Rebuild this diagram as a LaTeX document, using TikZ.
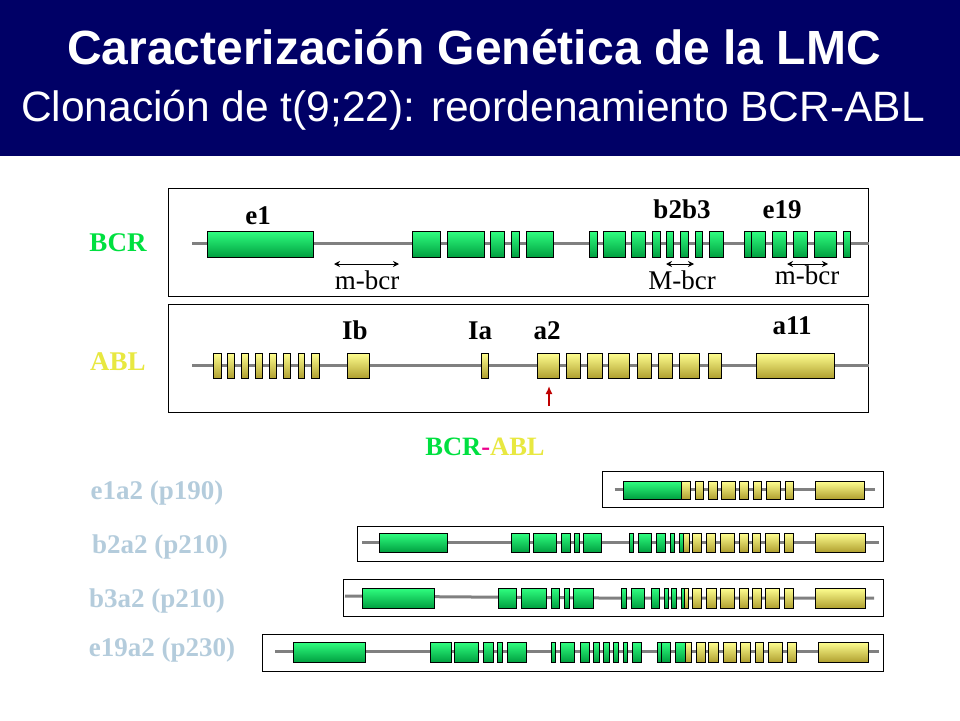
\documentclass[tikz,border=0pt]{standalone}
\usepackage{fontspec}
\usetikzlibrary{arrows.meta}
\setmainfont{Liberation Serif}
\newfontfamily\hdfont{Liberation Sans}
\definecolor{navy}{HTML}{000066}
\definecolor{gtop}{HTML}{30FF80}
\definecolor{gbot}{HTML}{00A040}
\definecolor{ytop}{HTML}{FFFF90}
\definecolor{ybot}{HTML}{B0A030}
\definecolor{lbl}{HTML}{B4CCDC}
\definecolor{bcrg}{HTML}{00E040}
\definecolor{ably}{HTML}{E8E840}
\newcommand\exons[4]{\foreach \a/\b in {#4}{\draw[#1] (\a,#2) rectangle (\b,#3);}}
\begin{document}
\begin{tikzpicture}[x=1pt,y=-1pt,
  gex/.style={draw=black,line width=0.7pt,top color=gtop,bottom color=gbot},
  yex/.style={draw=black,line width=0.7pt,top color=ytop,bottom color=ybot},
  chrom/.style={draw=gray,line width=3pt},
  frame/.style={draw=black,line width=0.8pt},
  exlab/.style={font=\bfseries\fontsize{27}{27}\selectfont,anchor=base},
  reg/.style={font=\fontsize{27}{27}\selectfont},
  dim/.style={<->,>={Stealth[length=6pt,width=6pt]},line width=1pt},
  rowlab/.style={text=lbl,font=\bfseries\fontsize{27}{27}\selectfont}]
\useasboundingbox (0,0) rectangle (960,720);
\fill[white] (0,0) rectangle (960,720);
\fill[navy] (0,0) rectangle (960,156);
\node[text=white,font=\hdfont\bfseries\fontsize{48}{48}\selectfont] (t1) at (474,47) {Caracterización Genética de la LMC};
\node[text=white,font=\hdfont\fontsize{42.5}{42.5}\selectfont] (t2) at (473,110) {Clonación de t(9;22): reordenamiento BCR-ABL};
% BCR
\draw[frame] (168,188) rectangle (868,296);
\draw[chrom] (192,243) -- (869,243);
\exons{gex}{231}{257}{207/313,412.5/440,447/484,490.6/504,511/519,526/553.5,589/597,603/625,631.5/645,652/660.5,666/673,680/688,695/702,709.6/723,744.5/751,751/765,772/786,793.6/807,814/836,843/850.5}
\node[exlab] (e1) at (258,224) {e1};
\node[exlab] (b2b3) at (682,218) {b2b3};
\node[exlab] (e19) at (782,218) {e19};
\coordinate (m1a) at (334,264); \coordinate (m1b) at (399,264);
\draw[dim] (m1a) -- (m1b);
\node[reg] (m1) at (367,280) {m-bcr};
\coordinate (Ma) at (666,264); \coordinate (Mb) at (694,264);
\draw[dim] (Ma) -- (Mb);
\node[reg] (M) at (682,280) {M-bcr};
\coordinate (m2a) at (787,264); \coordinate (m2b) at (828,264);
\draw[dim] (m2a) -- (m2b);
\node[reg] (m2) at (807,275) {m-bcr};
\node[text=bcrg,font=\bfseries\fontsize{27}{27}\selectfont] (BCR) at (118,243) {BCR};
% ABL
\draw[frame] (168,304) rectangle (868,412);
\draw[chrom] (192,365) -- (869,365);
\exons{yex}{353}{378}{213/221,227.5/234,241/248,255/262,269/276,283/290,298/304.6,311.5/319,347/369,481/488,537/559.5,566/580,587/602,608.6/629,637.5/651,658/672,679/699.5,708/721,756/834}
\node[exlab] (Ib) at (355,339) {Ib};
\node[exlab] (Ia) at (480,339) {Ia};
\node[exlab] (a2) at (547,339) {a2};
\node[exlab] (a11) at (792,334) {a11};
\coordinate (ra) at (549,406); \coordinate (rb) at (549,386);
\draw[->,>={Latex[length=8pt,width=7pt]},draw=red!75!black,line width=2.5pt] (ra) -- (rb);
\node[text=ably,font=\bfseries\fontsize{27}{27}\selectfont] (ABL) at (118,362) {ABL};
\node[font=\bfseries\fontsize{26.5}{26.5}\selectfont] (fus) at (485,447) {\textcolor{bcrg}{BCR}\textcolor{magenta}{-}\textcolor{ably}{ABL}};
% row 1
\draw[frame] (602,471) rectangle (883,507);
\draw[chrom] (614.5,489) -- (874.5,489);
\exons{gex}{481}{499}{623.5/681.5}
\exons{yex}{481}{499}{681.5/690,695.7/703,708/717,721/735,739/748,753/761,766/780,785/793.7,815/864}
\node[rowlab] (r1) at (157,493) {e1a2 (p190)};
% row 2
\draw[frame] (357,526) rectangle (883,561);
\draw[chrom] (362,542) -- (878.6,542);
\exons{gex}{533}{552}{379/447.5,511/529.6,533/556,561/570,574.5/579,583.5/601,629.6/633.7,638.6/651,656.5/665.5,670/674.5,679/683.5}
\exons{yex}{533}{552}{683.5/689,692/701,706/715,720.6/734,739/748,752/760,765.5/779,784/793,815/865.5}
\node[rowlab] (r2) at (160,547) {b2a2 (p210)};
% row 3
\draw[frame] (343,579) rectangle (883,616);
\draw[chrom] (345,596) -- (600,598) -- (874,598);
\exons{gex}{588}{608}{362/434.5,498/516,521/546,551/559,564/569,573.7/593.7,621/626,631.6/644.7,651/659,664/668,671/676.5,681.4/684.7}
\exons{yex}{588}{608}{684.7/688.8,692/701,706/716,720.6/734,739/748,752/761,765.5/779,784/793.5,815/865.5}
\node[rowlab] (r3) at (157,601) {b3a2 (p210)};
% row 4
\draw[frame] (262,634) rectangle (883,671);
\draw[chrom] (275,651) -- (878.6,651);
\exons{gex}{642}{662}{293/365.5,430/451,454/478.6,483.5/493,497/502,507/526,551/555,560/574.5,580/589,593.7/599,603.5/609,613/618,623/627,632.4/641,657/661,661/670,675/685.5}
\exons{yex}{642}{662}{685.5/691,696/705,708/718.6,723.5/736.5,740.6/750,755/763.5,768/782.6,787/796,818.6/868}
\node[rowlab] (r4) at (162,650) {e19a2 (p230)};
\end{tikzpicture}
\end{document}
